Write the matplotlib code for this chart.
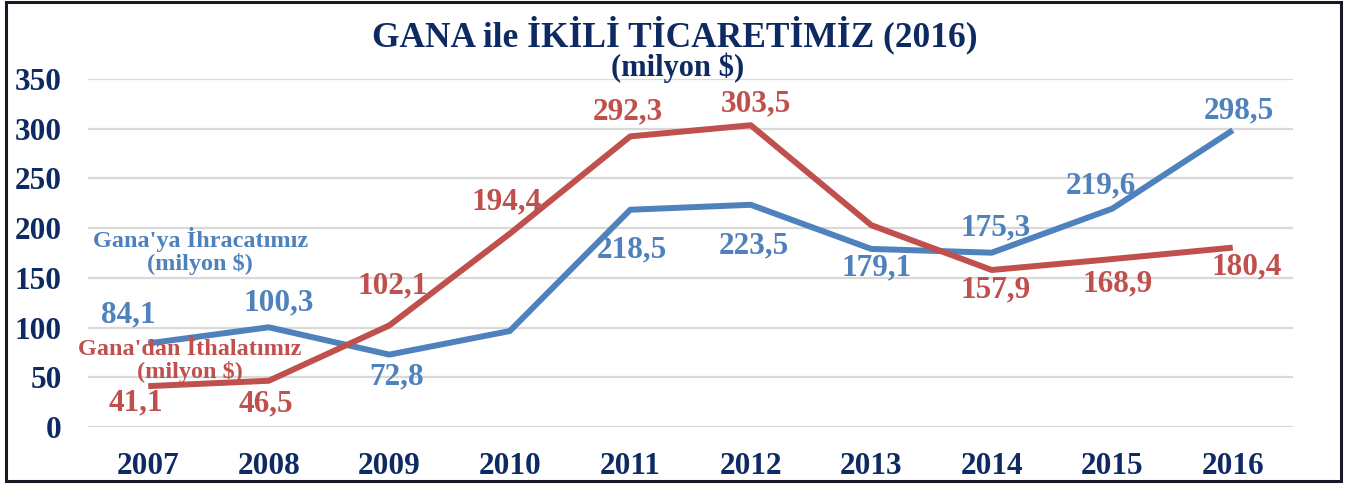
import matplotlib
matplotlib.use("Agg")
from matplotlib import pyplot as plt
from matplotlib.patches import Rectangle

years = ["2007", "2008", "2009", "2010", "2011", "2012", "2013", "2014", "2015", "2016"]
ihracat = [84.1, 100.3, 72.8, 96.5, 218.5, 223.5, 179.1, 175.3, 219.6, 298.5]
ithalat = [41.1, 46.5, 102.1, 194.4, 292.3, 303.5, 203.0, 157.9, 168.9, 180.4]
# labels shown on the chart (None = no label)
ihracat_lbl = ["84,1", "100,3", "72,8", None, "218,5", "223,5", "179,1", "175,3", "219,6", "298,5"]
ithalat_lbl = ["41,1", "46,5", "102,1", "194,4", "292,3", "303,5", None, "157,9", "168,9", "180,4"]
yticks = [0, 50, 100, 150, 200, 250, 300, 350]

# label offsets in pixels (dx, dy)
ihr_off = [(-20, 28), (10, 24), (7, -22), None, (2, -40), (3, -41), (5, -19), (4, 25), (-11, 23), (6, 19)]
ith_off = [(-12, -17), (-3, -23), (3, 40), (-3, 32), (-2, 24), (5, 21), None, (4, -20), (5, -25), (14, -19)]

BLUE = "#4F81BD"
RED = "#C0504D"
NAVY = "#0E2A63"
FONT = "Liberation Serif"

fig = plt.figure(figsize=(13.59, 4.87), dpi=100)
ax = fig.add_axes([88/1359, 1-427/487, (1293-88)/1359, (427-79)/487])

x = list(range(len(years)))
ax.plot(x, ihracat, color=BLUE, lw=4.3, solid_capstyle="butt", zorder=3)
ax.plot(x, ithalat, color=RED, lw=4.3, solid_capstyle="butt", zorder=3)

for xs, vals, lbls, offs, col in [(x, ihracat, ihracat_lbl, ihr_off, BLUE),
                                  (x, ithalat, ithalat_lbl, ith_off, RED)]:
    for xi, v, l, o in zip(xs, vals, lbls, offs):
        if l is None:
            continue
        ax.annotate(l, (xi, v), xytext=o, textcoords="offset pixels",
                    ha="center", va="center", color=col, fontsize=22.5,
                    fontweight="bold", family=FONT, zorder=4)

ax.text(0.43, 177, "Gana'ya İhracatımız\n(milyon $)", color=BLUE, fontsize=17.5,
        fontweight="bold", family=FONT, ha="center", va="center", linespacing=1.05)
ax.text(0.345, 66, "Gana'dan İthalatımız\n(milyon $)", color=RED, fontsize=17.5,
        fontweight="bold", family=FONT, ha="center", va="center", linespacing=1.05)

ax.set_xlim(-0.5, len(years) - 0.5)
ax.set_ylim(0, 350)
ax.set_yticks(yticks)
ax.set_xticks(x)
ax.set_xticklabels(years)
ax.grid(axis="y", color="#D9D9D9", lw=1.6)
ax.set_axisbelow(True)
for s in ax.spines.values():
    s.set_visible(False)
ax.tick_params(length=0, colors=NAVY)
ax.tick_params(axis="y", pad=19)
ax.tick_params(axis="x", pad=18)
for t in ax.get_xticklabels() + ax.get_yticklabels():
    t.set_fontsize(22.5)
    t.set_fontweight("bold")
    t.set_family(FONT)
    t.set_color(NAVY)

fig.text(675/1359, 1-35/487, "GANA ile İKİLİ TİCARETİMİZ (2016)", ha="center", va="center",
         color=NAVY, fontsize=25.5, fontweight="bold", family=FONT)
fig.text(678/1359, 1-68/487, "(milyon $)", ha="center", va="center",
         color=NAVY, fontsize=22, fontweight="bold", family=FONT)

fig.patches.append(Rectangle((6/1359, 1-481/487), (1341-6)/1359, (481-2)/487,
                             transform=fig.transFigure, fill=False,
                             edgecolor="#151a24", lw=2.2))

fig.savefig("out.png", dpi=100)
